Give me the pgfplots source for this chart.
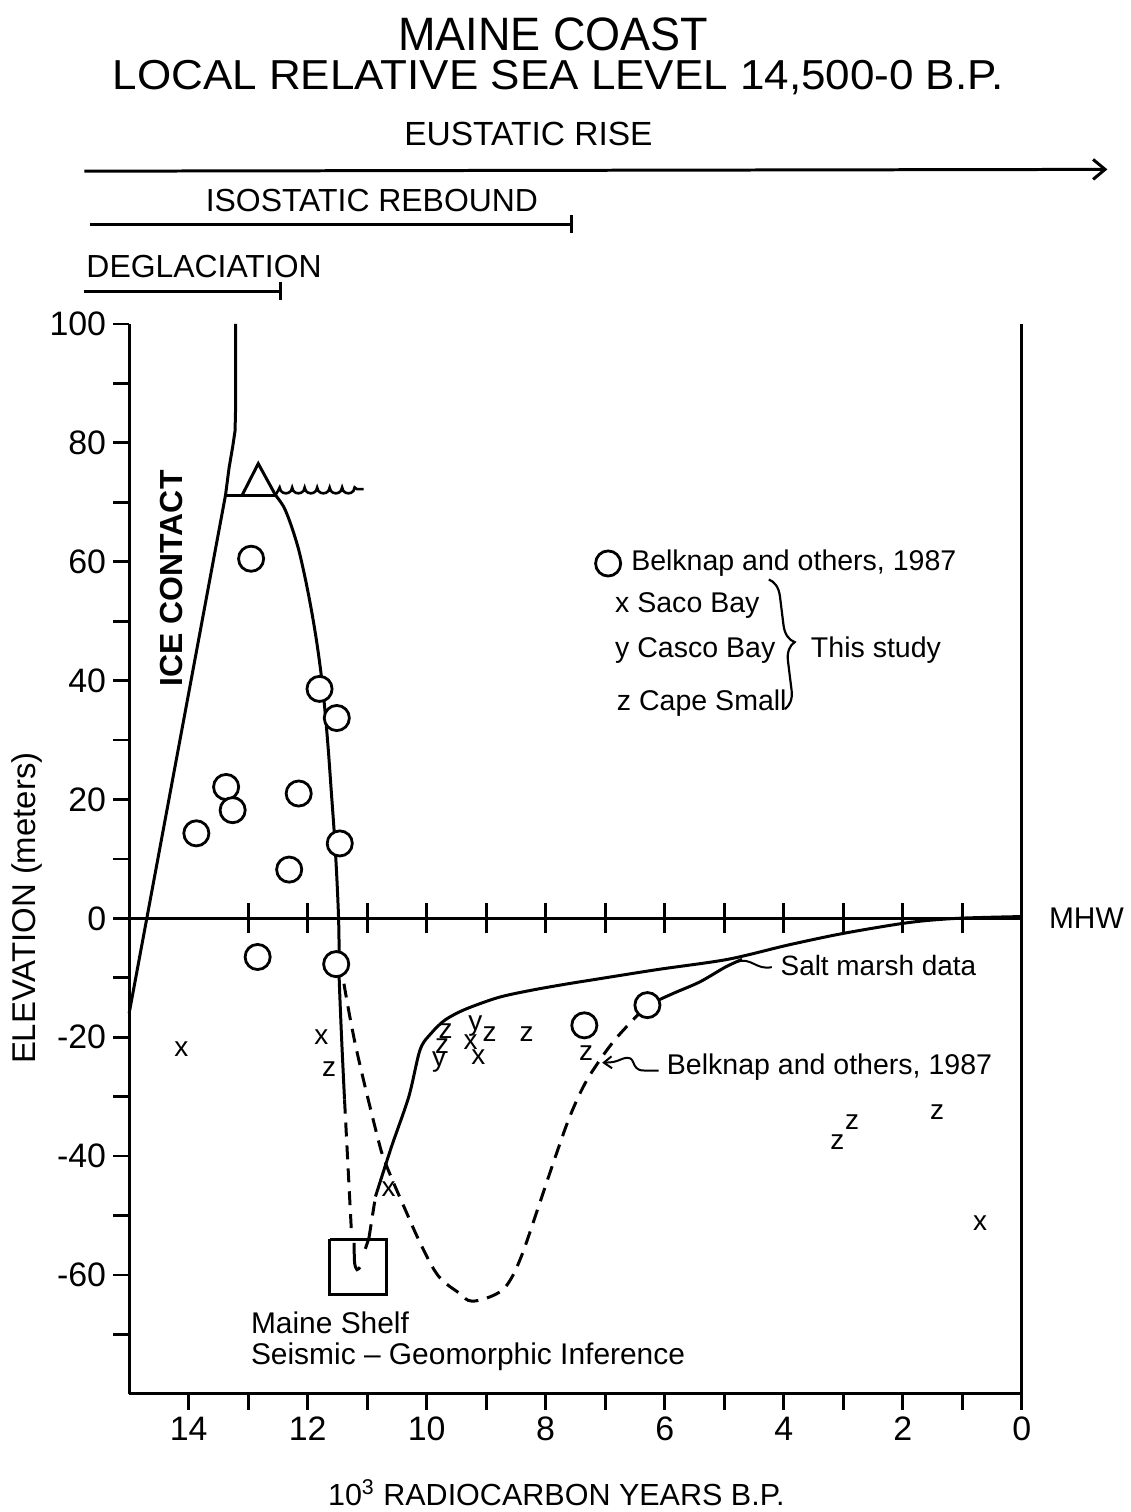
\documentclass[border=0pt]{standalone}
\usepackage{fontspec}
\setmainfont{Liberation Sans}
\usepackage{graphicx}
\usepackage{pgfplots}
\pgfplotsset{compat=1.18}
\usetikzlibrary{arrows.meta,decorations.pathreplacing}
\newcommand{\fs}[1]{\fontsize{#1}{#1}\selectfont}
\begin{document}
\begin{tikzpicture}
\begin{axis}[
  scale only axis, width=447.5pt, height=536.4pt,
  xmin=0, xmax=15, ymin=-80, ymax=100, x dir=reverse,
  axis x line*=bottom, axis y line*=box,
  axis line style={line width=1.6pt},
  tick align=outside,
  xtick={0,2,4,6,8,10,12,14}, xticklabels={0,2,4,6,8,10,12,14},
  minor xtick={1,3,5,7,9,11,13},
  ytick={-60,-40,-20,0,20,40,60,80,100}, yticklabels={-60,-40,-20,0,20,40,60,80,100},
  minor ytick={-70,-50,-30,-10,10,30,50,70,90},
  ytick pos=left,
  major tick length=8pt, minor tick length=8pt,
  every tick/.style={black, line width=1.4pt},
  tick label style={font=\fs{17}},
  clip=false,
  curve/.style={black, line width=1.5pt, mark=none},
  dcurve/.style={black, line width=1.5pt, mark=none, dash pattern=on 7pt off 4.5pt},
  circ/.style={only marks, mark=*, mark size=6.3pt, mark options={fill=white, draw=black, line width=1.4pt}},
  letter/.style={only marks, mark=text, text mark={#1}, text mark as node=true, text mark style={font=\fs{14}, inner sep=0pt}},
]
% bounding frame
\path (axis cs:17.17,154.5) rectangle (axis cs:-1.51,-99.2);

% zero line with ticks
\addplot[curve] coordinates {(15,0) (0,0)};
\pgfplotsinvokeforeach{1,...,13}{\addplot[curve] coordinates {(#1,-2.5) (#1,2.5)};}

% ice contact
\addplot[curve] coordinates {(15,-16) (13.38,71.2) (13.32,75.8) (13.26,79.3) (13.22,82) (13.21,86) (13.21,100)};
% water level line and triangle
\addplot[curve] coordinates {(13.38,71.2) (12.54,71.2)};
\addplot[curve] coordinates {(13.10,71.2) (12.83,76.5) (12.54,71.2)};
% wavy water line
\addplot[black, line width=1.3pt] coordinates {
(12.54,71.2) (12.50,71.9) (12.47,72.5)
(12.45,71.9) (12.41,71.6) (12.365,71.5) (12.32,71.6) (12.28,71.9) (12.26,72.5)
(12.24,71.9) (12.20,71.6) (12.155,71.5) (12.11,71.6) (12.07,71.9) (12.05,72.5)
(12.03,71.9) (11.99,71.6) (11.945,71.5) (11.90,71.6) (11.86,71.9) (11.84,72.5)
(11.82,71.9) (11.78,71.6) (11.735,71.5) (11.69,71.6) (11.65,71.9) (11.63,72.5)
(11.61,71.9) (11.57,71.6) (11.525,71.5) (11.48,71.6) (11.44,71.9) (11.42,72.5)
(11.40,71.9) (11.36,71.6) (11.315,71.5) (11.27,71.6) (11.23,71.9) (11.21,72.5)
(11.17,72.2) (11.06,72.2)};

% Belknap curve (solid, upper part)
\addplot[curve, smooth, tension=0.5] coordinates {
(12.54,71.2) (12.40,69.2) (12.28,66.2) (12.15,62) (12.03,56.7) (11.93,51.5) (11.84,46.0)
(11.76,40) (11.70,34) (11.65,28) (11.60,21) (11.55,14) (11.51,7) (11.48,0) (11.47,-6)
(11.47,-10) (11.43,-20) (11.38,-30.5)};
% dashed continuation into the shelf box
\addplot[dcurve] coordinates {(11.38,-30.5) (11.32,-42) (11.26,-53.5)};
% hook in box
\addplot[curve, smooth] coordinates {(11.22,-54.6) (11.21,-58.0) (11.17,-59.1) (11.12,-58.7)};
\addplot[curve] coordinates {(11.03,-55.6) (10.97,-53.8)};
\addplot[dcurve] coordinates {(10.97,-53.8) (10.86,-46.8)};
% this study curve (solid)
\addplot[curve, smooth, tension=0.5] coordinates {
(10.86,-46.8) (10.59,-38.4) (10.30,-30.0) (10.11,-22.1) (9.92,-19.3) (9.69,-17.1) (9.35,-15.3)
(8.79,-13.3) (8.24,-12.1) (7.68,-11.1) (7.12,-10.2) (6.11,-8.6) (4.94,-6.9) (3.93,-4.5)
(2.98,-2.5) (1.89,-0.7) (1.08,0) (0,0.3)};
% Belknap dashed trough
\addplot[dcurve, smooth, tension=0.6] coordinates {
(11.39,-11.0) (11.19,-21.6) (10.84,-36.2) (10.69,-41.2) (10.36,-49.0) (10.08,-55.2)
(9.80,-60.2) (9.46,-63.0) (9.24,-64.4) (8.85,-63.3) (8.63,-61.4) (8.41,-56.9) (8.12,-48.5)
(7.85,-40.5) (7.60,-33.5) (7.35,-28.0) (7.10,-24.0) (6.85,-20.6) (6.60,-17.8) (6.29,-14.6)};
% Belknap solid to salt marsh
\addplot[curve, smooth] coordinates {(6.29,-14.6) (5.85,-12.6) (5.41,-10.7) (4.98,-8.2) (4.70,-6.9)};

% shelf box
\addplot[curve] coordinates {(11.63,-54.0) (10.67,-54.0) (10.67,-63.3) (11.63,-63.3) (11.63,-54.0)};

% letter data
\addplot[letter=x] coordinates {(14.12,-22.0) (11.77,-20.0) (10.64,-45.5) (9.26,-20.9) (9.13,-23.4) (0.70,-51.3)};
\addplot[letter=y] coordinates {(9.79,-24.1) (9.18,-18.2)};
\addplot[letter=z] coordinates {(11.64,-25.3) (9.68,-18.9) (9.74,-21.5) (8.94,-19.4) (8.32,-19.5) (7.32,-22.7) (3.10,-37.6) (2.85,-34.2) (1.42,-32.6)};

% Belknap circles
\addplot[circ] coordinates {
(12.95,60.5) (11.80,38.6) (11.51,33.7) (13.37,22.1) (13.26,18.2) (13.87,14.3) (12.15,21.0)
(12.31,8.2) (11.46,12.6) (12.84,-6.5) (11.52,-7.7) (7.35,-18.0) (6.29,-14.6)};
% legend circle
\addplot[circ] coordinates {(6.95,59.7)};

% legend texts
\node[anchor=west, font=\fs{14.3}] at (axis cs:6.68,59.7) {Belknap and others, 1987};
\node[anchor=west, font=\fs{14.3}] at (axis cs:6.95,52.7) {x Saco Bay};
\node[anchor=west, font=\fs{14.3}] at (axis cs:6.95,45.0) {y Casco Bay};
\node[anchor=west, font=\fs{14.3}] at (axis cs:6.92,36.2) {z Cape Small};
\node[anchor=west, font=\fs{14.3}] at (axis cs:3.66,45.1) {This study};
\draw[decorate, decoration={brace, amplitude=9pt}, line width=1.1pt] (axis cs:4.25,57.0) -- (axis cs:3.98,35.2);

% annotations
\node[rotate=90, font=\bfseries\fs{16}] at (axis cs:14.29,57.2) {ICE CONTACT};
\node[anchor=west, font=\fs{15}] at (axis cs:-0.34,0) {MHW};
\node[anchor=west, font=\fs{14}] at (axis cs:4.17,-8.0) {Salt marsh data};
\draw[line width=1pt] (axis cs:4.78,-7.3) .. controls (axis cs:4.55,-6.5) and (axis cs:4.45,-8.8) .. (axis cs:4.2,-8.2);
\node[anchor=west, font=\fs{14.3}] at (axis cs:6.08,-25.0) {Belknap and others, 1987};
\draw[line width=1pt, -{Straight Barb[length=4pt,width=6pt]}] (axis cs:6.1,-25.6) -- (axis cs:6.35,-25.6) .. controls (axis cs:6.6,-25.6) and (axis cs:6.45,-22.8) .. (axis cs:6.7,-23.6) .. controls (axis cs:6.85,-24.2) .. (axis cs:7.05,-24.3);
\node[anchor=west, font=\fs{15}] at (axis cs:13.07,-68.1) {Maine Shelf};
\node[anchor=west, font=\fs{15}] at (axis cs:13.07,-73.7) {Seismic -- Geomorphic Inference};

% axis labels
\node[rotate=90, font=\fs{16.5}] at (axis cs:16.72,1.7) {ELEVATION (meters)};
\node[font=\fs{15.3}] at (axis cs:7.82,-96.6) {10\textsuperscript{3} RADIOCARBON YEARS B.P.};

% titles
\node[font=\fs{23.5}] at (axis cs:7.87,148.7) {\scalebox{0.96}[1]{MAINE COAST}};
\node[font=\fs{21}] at (axis cs:7.79,141.4) {\scalebox{1.05}[1]{LOCAL RELATIVE SEA LEVEL 14,500-0 B.P.}};
\node[font=\fs{16.8}] at (axis cs:8.29,131.9) {EUSTATIC RISE};
\node[font=\fs{16}] at (axis cs:10.92,120.8) {ISOSTATIC REBOUND};
\node[font=\fs{16}] at (axis cs:13.74,109.7) {DEGLACIATION};

% process bars
\addplot[curve, -{Straight Barb[length=6pt,width=10pt]}] coordinates {(15.75,125.7) (-1.44,126.0)};
\addplot[curve] coordinates {(15.66,116.8) (7.57,116.8)};
\addplot[curve] coordinates {(7.57,115.3) (7.57,118.3)};
\addplot[curve] coordinates {(15.75,105.5) (12.45,105.5)};
\addplot[curve] coordinates {(12.45,104.0) (12.45,107.0)};
\end{axis}
\end{tikzpicture}
\end{document}
